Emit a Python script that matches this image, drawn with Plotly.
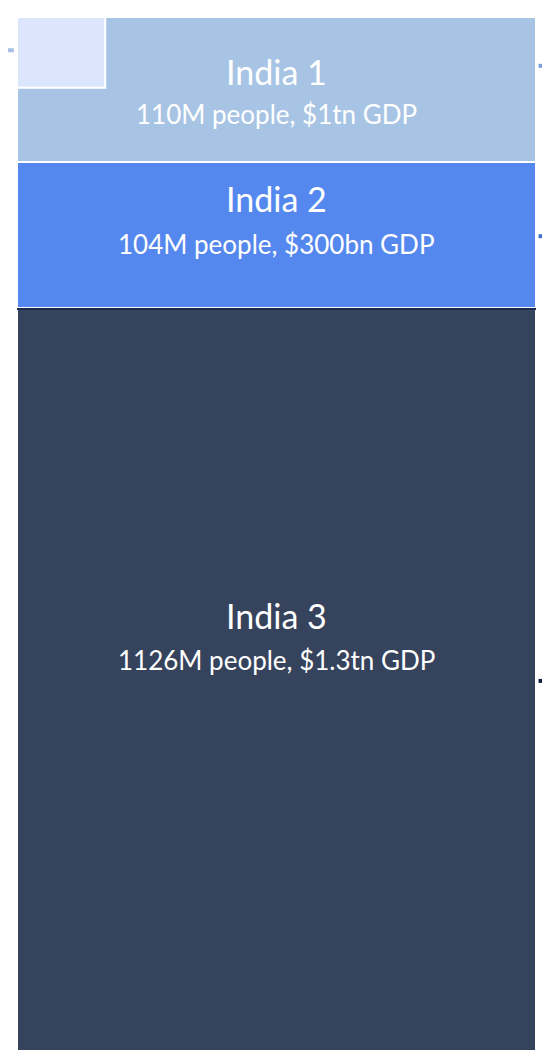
import plotly.graph_objects as go

names = ["India 1", "India 2", "India 3"]
people_m = [110, 104, 1126]
gdp = ["$1tn", "$300bn", "$1.3tn"]
block_size = [145, 146, 748]  # displayed block heights

colors = ["#a8c4e4", "#5588ee", "#36435c"]
title_shift = [18, 37, 67]
sub_shift = [-24, -9, 22]

fig = go.Figure()
base = 0
centers = []
for i, n in enumerate(names):
    fig.add_trace(go.Bar(x=[0], y=[block_size[i]], base=[base], width=1,
                         marker=dict(color=colors[i], line=dict(color="white", width=2)),
                         hoverinfo="skip", showlegend=False))
    centers.append(base + block_size[i] / 2)
    base += block_size[i]

for i, n in enumerate(names):
    fig.add_annotation(x=0, y=centers[i], yshift=title_shift[i], text=n, showarrow=False,
                       font=dict(family="Lato", size=34, color="white"))
    fig.add_annotation(x=0, y=centers[i], yshift=sub_shift[i],
                       text=f"{people_m[i]}M people, {gdp[i]} GDP", showarrow=False,
                       font=dict(family="Lato", size=26, color="white"))

fig.add_shape(type="line", xref="x", yref="y", x0=-0.5, x1=0.5,
              y0=block_size[0] + block_size[1] + 1, y1=block_size[0] + block_size[1] + 1,
              line=dict(color="#1a2a4a", width=2))
fig.add_shape(type="rect", xref="paper", yref="paper", x0=0, x1=0.170, y0=0.932, y1=1.0,
              fillcolor="#dbe6fc", line=dict(color="white", width=2))
for yp, c in [(0.953, "#7fa0e0"), (0.789, "#3f6fd0"), (0.361, "#0f1f3f")]:
    fig.add_shape(type="line", xref="paper", yref="paper", x0=1.005, x1=1.05, y0=yp, y1=yp,
                  line=dict(color=c, width=4))
fig.add_shape(type="line", xref="paper", yref="paper", x0=-0.02, x1=-0.006, y0=0.968, y1=0.968,
              line=dict(color="#a8c0e8", width=4))

fig.update_layout(width=550, height=1050, margin=dict(l=9, r=22, t=9, b=2, autoexpand=False),
                  plot_bgcolor="white", paper_bgcolor="white", barmode="overlay", bargap=0,
                  xaxis=dict(visible=False, range=[-0.5, 0.5]),
                  yaxis=dict(visible=False, range=[sum(block_size), 0]))
fig.write_html("out.html")
